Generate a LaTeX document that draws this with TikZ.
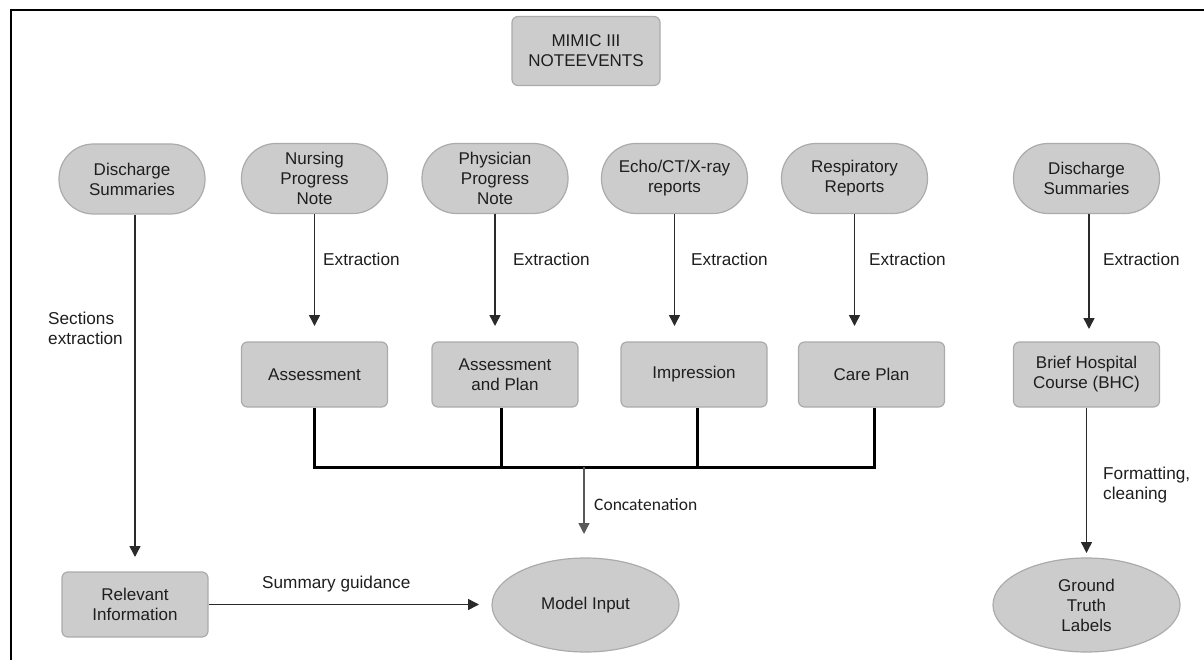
\documentclass[tikz,border=0pt]{standalone}
\usepackage{fontspec}
\setmainfont{Liberation Sans}
\newfontfamily\calib{Carlito}
\usetikzlibrary{shapes.geometric,arrows.meta}
\definecolor{boxgray}{HTML}{CCCCCC}
\definecolor{edgegray}{HTML}{ABABAB}
\definecolor{txt}{HTML}{1E1E1E}
\definecolor{arrgray}{HTML}{2A2A2A}
\tikzset{
  lab/.style={font=\fontsize{17}{20}\selectfont, text=txt},
  elab/.style={font=\fontsize{17.2}{20}\selectfont, text=txt, anchor=west, align=left, inner sep=0pt},
  box/.style={draw=edgegray, fill=boxgray, line width=1.2pt, rounded corners=6pt, minimum width=146pt, minimum height=65pt, align=center, inner sep=0pt, lab},
  pill/.style={draw=edgegray, fill=boxgray, line width=1.2pt, rounded corners=34.5pt, minimum width=146pt, minimum height=70pt, align=center, inner sep=0pt, lab},
  oval/.style={ellipse, draw=edgegray, fill=boxgray, line width=1.2pt, minimum width=187pt, minimum height=94pt, align=center, inner sep=0pt, lab},
  arr/.style={-{Triangle[length=11pt,width=11pt]}, line width=1.5pt, draw=arrgray},
  bus/.style={line width=3pt, draw=black},
}
\begin{document}
\begin{tikzpicture}[x=1pt,y=-1pt]
\useasboundingbox (0,0) rectangle (1204,660);
\draw[line width=2.4pt, black] (11,662) -- (11,10) -- (1206,10);

% nodes
\node[box, minimum width=148pt, minimum height=69pt] (mimic) at (586,51) {MIMIC III\\NOTEEVENTS};

\node[pill] (dsl) at (132,179) {Discharge\\Summaries};
\node[pill] (nurs) at (314.5,178.5) {Nursing\\Progress\\Note};
\node[pill] (phys) at (495,178.5) {Physician\\Progress\\Note};
\node[pill] (echo) at (674.5,178.5) {Echo/CT/X-ray\\reports};
\node[pill] (resp) at (854.5,178.5) {Respiratory\\Reports};
\node[pill] (dsr) at (1086.5,178.5) {Discharge\\Summaries};

\node[box] (asm) at (314.5,374.5) {Assessment};
\node[box] (aap) at (505,374.5) {Assessment\\and Plan};
\node[box] (imp) at (694,374.5) {Impression};
\node[box] (care) at (871.5,374.5) {Care Plan};
\node[box] (bhc) at (1086.5,374.5) {Brief Hospital\\Course (BHC)};

\node[box] (rel) at (135,604.5) {Relevant\\Information};
\node[oval] (model) at (585.5,605) {Model Input};
\node[oval] (gt) at (1086.5,605) {Ground\\Truth\\Labels};

% arrow tips
\coordinate (t1) at (314.5,326);
\coordinate (t2) at (495,326);
\coordinate (t3) at (674.5,326);
\coordinate (t4) at (854.5,326);
\coordinate (t5) at (1089,329);
\coordinate (tl) at (135,557);
\coordinate (tb) at (1086.5,553);
\coordinate (tc) at (584,534);
\coordinate (ts) at (479,604.5);
\coordinate (busL) at (314.5,467);
\coordinate (busR) at (874,467);
\coordinate (busM) at (584,467);

\draw[arr] (nurs.south) -- (t1);
\draw[arr] (phys.south) -- (t2);
\draw[arr] (echo.south) -- (t3);
\draw[arr] (resp.south) -- (t4);
\draw[arr] (dsr.south -| t5) -- (t5);
\draw[arr] (dsl.south -| tl) -- (tl);
\draw[arr] (bhc.south) -- (tb);
\draw[arr] (rel.east) -- (ts);

\node[elab] (e1) at (323,259) {Extraction};
\node[elab] (e2) at (513,259) {Extraction};
\node[elab] (e3) at (691,259) {Extraction};
\node[elab] (e4) at (869,259) {Extraction};
\node[elab] (e5) at (1103,259) {Extraction};
\node[elab] (sec) at (48,328) {Sections\\extraction};
\node[elab] (fmt) at (1103,485) {Formatting,\\cleaning};
\node[elab] (sg) at (262,584) {Summary guidance};

% bus
\draw[bus] (asm.south) -- (asm.south |- busL);
\draw[bus] (aap.south -| 501,0) -- (501,467);
\draw[bus] (imp.south -| 697,0) -- (697,467);
\draw[bus] (care.south -| 874,0) -- (busR);
\draw[bus, line cap=rect] (busL) -- (busR);

\draw[arr, draw=black!65] (busM) -- (tc);
\node[anchor=west, inner sep=0pt, font=\calib\fontsize{17.5}{20}\selectfont, text=txt] (conc) at (594,505) {Concatenation};
\end{tikzpicture}
\end{document}
